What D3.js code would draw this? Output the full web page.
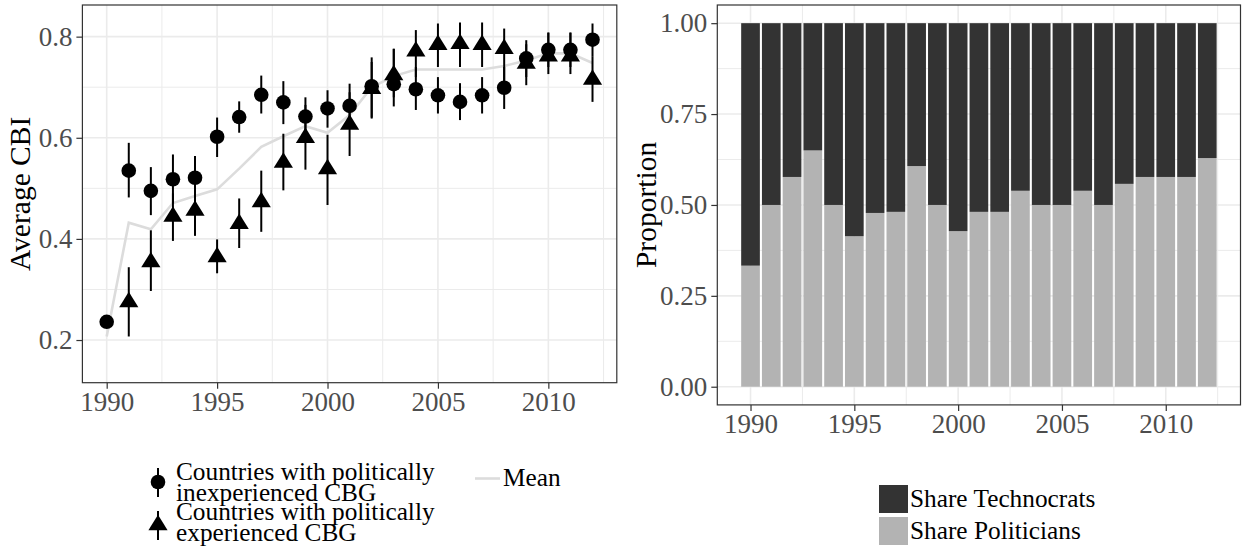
<!DOCTYPE html>
<html lang="en">
<head>
<meta charset="UTF-8" />
<title>CBI and governor background</title>
<script src="https://d3js.org/d3.v7.min.js"></script>
<style>
    body { margin: 0; background: #fff; }
    svg text { font-family: "Liberation Serif", "Times New Roman", serif; }
    .tick text { fill: #4d4d4d; font-size: 27px; }
    .axis path { stroke: #333; stroke-width: 1.2px; }
    .axis .tick line { stroke: #333; stroke-width: 1.2px; }
    .grid line { stroke: #ebebeb; }
</style>
</head>
<body>
<script>
var years = [1990, 1991, 1992, 1993, 1994, 1995, 1996, 1997, 1998, 1999, 2000, 2001,
             2002, 2003, 2004, 2005, 2006, 2007, 2008, 2009, 2010, 2011, 2012];

// politically inexperienced governors (circles)
var inexpMean = [0.236, 0.535, 0.495, 0.518, 0.521, 0.602, 0.641, 0.685, 0.670, 0.642, 0.658, 0.663,
                 0.702, 0.706, 0.696, 0.684, 0.671, 0.684, 0.699, 0.757, 0.774, 0.774, 0.794];
var inexpLow  = [null, 0.482, 0.447, 0.470, 0.478, 0.562, 0.610, 0.648, 0.627, 0.600, 0.620, 0.620,
                 0.638, 0.662, 0.655, 0.648, 0.635, 0.648, 0.657, 0.720, 0.740, 0.740, 0.760];
var inexpHigh = [null, 0.590, 0.542, 0.567, 0.564, 0.640, 0.672, 0.723, 0.712, 0.680, 0.694, 0.707,
                 0.759, 0.776, 0.740, 0.720, 0.708, 0.720, 0.740, 0.793, 0.808, 0.808, 0.826];

// politically experienced governors (triangles)
var expMean = [null, 0.275, 0.354, 0.444, 0.456, 0.364, 0.430, 0.473, 0.551, 0.600, 0.538, 0.626,
               0.697, 0.724, 0.771, 0.784, 0.786, 0.784, 0.776, 0.747, 0.761, 0.761, 0.715];
var expLow  = [null, 0.207, 0.297, 0.396, 0.406, 0.332, 0.382, 0.414, 0.496, 0.537, 0.467, 0.564,
               0.640, 0.680, 0.720, 0.740, 0.740, 0.740, 0.700, 0.704, 0.726, 0.726, 0.671];
var expHigh = [null, 0.344, 0.417, 0.490, 0.510, 0.399, 0.480, 0.535, 0.608, 0.665, 0.606, 0.690,
               0.750, 0.776, 0.813, 0.826, 0.828, 0.828, 0.816, 0.785, 0.808, 0.808, 0.760];

var meanCBI = [0.207, 0.432, 0.419, 0.471, 0.485, 0.498, 0.539, 0.582, 0.603, 0.623, 0.610, 0.645,
               0.700, 0.722, 0.735, 0.735, 0.735, 0.735, 0.742, 0.753, 0.767, 0.767, 0.748];

var sharePoliticians = [0.333, 0.500, 0.577, 0.650, 0.500, 0.414, 0.478, 0.481, 0.607, 0.500, 0.428, 0.481,
                        0.481, 0.539, 0.500, 0.500, 0.539, 0.500, 0.558, 0.577, 0.577, 0.577, 0.629];
var shareTechnocrats = [0.667, 0.500, 0.423, 0.350, 0.500, 0.586, 0.522, 0.519, 0.393, 0.500, 0.572, 0.519,
                        0.519, 0.461, 0.500, 0.500, 0.461, 0.500, 0.442, 0.423, 0.423, 0.423, 0.371];

var xTicks = [1990, 1995, 2000, 2005, 2010];
var xMinor = [1992.5, 1997.5, 2002.5, 2007.5, 2012.5];
var cbiTicks = [0.2, 0.4, 0.6, 0.8];
var cbiMinor = [0.3, 0.5, 0.7];
var propTicks = [0, 0.25, 0.5, 0.75, 1];
var propMinor = [0.125, 0.375, 0.625, 0.875];

var svg = d3.select("body").append("svg")
    .attr("width", 1242)
    .attr("height", 552);

// ---------- left panel ----------
var L = { left: 82.4, right: 616.8, top: 5, bottom: 382.7 };
var xL = d3.scaleLinear().domain([1988.9, 2013.1]).range([L.left, L.right]);
var yL = d3.scaleLinear().domain([0.1156, 0.8626]).range([L.bottom, L.top]);

function grid(g, x, y, box, xs, ys, width) {
    g.selectAll(".gx").data(xs).enter().append("line")
        .attr("x1", x).attr("x2", x).attr("y1", box.top).attr("y2", box.bottom)
        .attr("stroke-width", width);
    g.selectAll(".gy").data(ys).enter().append("line")
        .attr("x1", box.left).attr("x2", box.right).attr("y1", y).attr("y2", y)
        .attr("stroke-width", width);
}

var gL = svg.append("g").attr("class", "grid");
grid(gL.append("g"), xL, yL, L, xMinor, cbiMinor, 1);
grid(gL.append("g"), xL, yL, L, xTicks, cbiTicks, 1.6);

// mean line
svg.append("path")
    .datum(years.map(function (d, i) { return [d, meanCBI[i]]; }))
    .attr("fill", "none")
    .attr("stroke", "#dcdcdc")
    .attr("stroke-width", 2.6)
    .attr("d", d3.line().x(function (d) { return xL(d[0]); }).y(function (d) { return yL(d[1]); }));

function series(mean, low, high) {
    return years.map(function (d, i) {
        return { year: d, m: mean[i], lo: low[i], hi: high[i] };
    }).filter(function (d) { return d.m != null; });
}
var inexp = series(inexpMean, inexpLow, inexpHigh);
var exp = series(expMean, expLow, expHigh);

function whiskers(data) {
    svg.append("g").selectAll("line")
        .data(data.filter(function (d) { return d.lo != null; }))
        .enter().append("line")
        .attr("x1", function (d) { return xL(d.year); })
        .attr("x2", function (d) { return xL(d.year); })
        .attr("y1", function (d) { return yL(d.lo); })
        .attr("y2", function (d) { return yL(d.hi); })
        .attr("stroke", "#000")
        .attr("stroke-width", 2);
}
whiskers(inexp);
whiskers(exp);

var triPath = "M0,-10.3 L9.6,5.2 L-9.6,5.2 Z";

svg.append("g").selectAll("circle")
    .data(inexp)
    .enter().append("circle")
    .attr("cx", function (d) { return xL(d.year); })
    .attr("cy", function (d) { return yL(d.m); })
    .attr("r", 7.3)
    .attr("fill", "#000");

svg.append("g").selectAll("path")
    .data(exp)
    .enter().append("path")
    .attr("d", triPath)
    .attr("transform", function (d) { return "translate(" + xL(d.year) + "," + yL(d.m) + ")"; })
    .attr("fill", "#000");

svg.append("rect")
    .attr("x", L.left).attr("y", L.top)
    .attr("width", L.right - L.left).attr("height", L.bottom - L.top)
    .attr("fill", "none").attr("stroke", "#333").attr("stroke-width", 1.2);

function axis(gen, transform) {
    svg.append("g").attr("class", "axis")
        .attr("transform", transform)
        .call(gen.tickSizeInner(6).tickSizeOuter(0))
        .call(function (g) { g.select(".domain").remove(); })
        .attr("font-family", null)
        .attr("font-size", null);
}

axis(d3.axisBottom(xL).tickValues(xTicks).tickFormat(d3.format("d")).tickPadding(3),
     "translate(0," + L.bottom + ")");
axis(d3.axisLeft(yL).tickValues(cbiTicks).tickFormat(d3.format(".1f")).tickPadding(4),
     "translate(" + L.left + ",0)");

svg.append("text")
    .attr("transform", "translate(30," + ((L.top + L.bottom) / 2) + ") rotate(-90)")
    .attr("text-anchor", "middle")
    .attr("font-size", 29.5)
    .text("Average CBI");

// ---------- right panel ----------
var R = { left: 717.3, right: 1240.5, top: 5, bottom: 404.9 };
var xR = d3.scaleLinear().domain([1988.4, 2013.6]).range([R.left, R.right]);
var yR = d3.scaleLinear().domain([-0.05, 1.05]).range([R.bottom, R.top]);

var gR = svg.append("g").attr("class", "grid");
grid(gR.append("g"), xR, yR, R, xMinor, propMinor, 1);
grid(gR.append("g"), xR, yR, R, xTicks, propTicks, 1.6);

var shares = years.map(function (d, i) {
    return { year: d, politicians: sharePoliticians[i], technocrats: shareTechnocrats[i] };
});
var stack = d3.stack().keys(["politicians", "technocrats"]);
var layers = stack(shares);
var barColor = { politicians: "#b3b3b3", technocrats: "#333333" };
var bw = xR(1990.9) - xR(1990);

svg.append("g").selectAll("g")
    .data(layers)
    .enter().append("g")
    .attr("fill", function (d) { return barColor[d.key]; })
    .selectAll("rect")
    .data(function (d) { return d; })
    .enter().append("rect")
    .attr("x", function (d) { return xR(d.data.year) - bw / 2; })
    .attr("width", bw)
    .attr("y", function (d) { return yR(d[1]); })
    .attr("height", function (d) { return yR(d[0]) - yR(d[1]); });

svg.append("rect")
    .attr("x", R.left).attr("y", R.top)
    .attr("width", R.right - R.left).attr("height", R.bottom - R.top)
    .attr("fill", "none").attr("stroke", "#333").attr("stroke-width", 1.2);

axis(d3.axisBottom(xR).tickValues(xTicks).tickFormat(d3.format("d")).tickPadding(3),
     "translate(0," + R.bottom + ")");
axis(d3.axisLeft(yR).tickValues(propTicks).tickFormat(d3.format(".2f")).tickPadding(4),
     "translate(" + R.left + ",0)");

svg.append("text")
    .attr("transform", "translate(656," + ((R.top + R.bottom) / 2) + ") rotate(-90)")
    .attr("text-anchor", "middle")
    .attr("font-size", 29.5)
    .text("Proportion");

// ---------- legends ----------
var legL = svg.append("g").attr("font-size", 25.3).attr("fill", "#000");
var pointKeys = [
    { shape: "circle", cy: 482, lines: ["Countries with politically", "inexperienced CBG"], y0: 480 },
    { shape: "triangle", cy: 525, lines: ["Countries with politically", "experienced CBG"], y0: 520 }
];
pointKeys.forEach(function (k) {
    var g = legL.append("g").attr("transform", "translate(158," + k.cy + ")");
    g.append("line").attr("y1", -14).attr("y2", 15).attr("stroke", "#000").attr("stroke-width", 2);
    if (k.shape === "circle") g.append("circle").attr("r", 7.3);
    else g.append("path").attr("d", triPath);
    var t = legL.append("text").attr("x", 176).attr("y", k.y0);
    k.lines.forEach(function (s, j) {
        t.append("tspan").attr("x", 176).attr("dy", j ? 20.5 : 0).text(s);
    });
});
legL.append("line")
    .attr("x1", 475).attr("x2", 500).attr("y1", 478.5).attr("y2", 478.5)
    .attr("stroke", "#dcdcdc").attr("stroke-width", 2.6);
legL.append("text").attr("x", 503).attr("y", 486).text("Mean");

var legR = svg.append("g").attr("font-size", 25.3);
[["Share Technocrats", "#333333", 485], ["Share Politicians", "#b3b3b3", 517]].forEach(function (k) {
    legR.append("rect").attr("x", 879).attr("y", k[2]).attr("width", 29).attr("height", 28).attr("fill", k[1]);
    legR.append("text").attr("x", 910).attr("y", k[2] + 22).text(k[0]);
});
</script>
</body>
</html>
